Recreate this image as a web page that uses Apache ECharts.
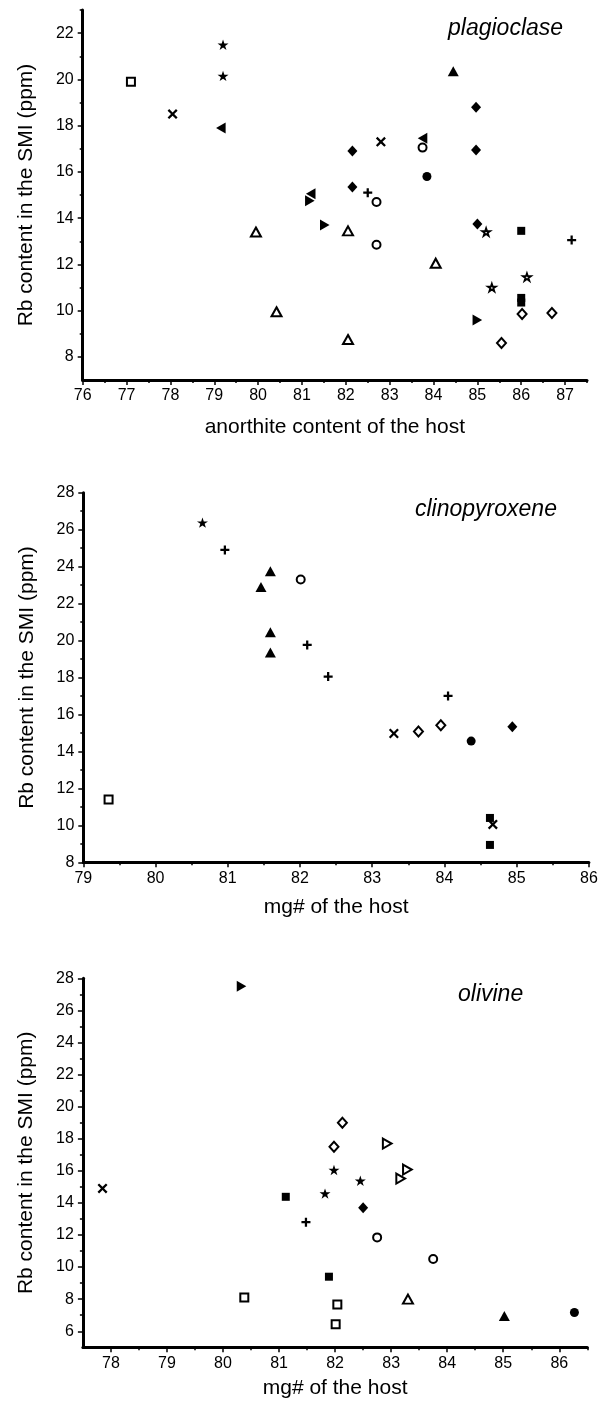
<!DOCTYPE html>
<html><head><meta charset="utf-8">
<script src="https://cdn.jsdelivr.net/npm/echarts@6/dist/echarts.min.js"></script>
<style>html,body{margin:0;padding:0;background:#fff}#c{width:608px;height:1404px}</style>
</head><body><div id="c"></div>
<script>
// ---------- Panel 1: plagioclase ----------
const plagXTicks = [76, 77, 78, 79, 80, 81, 82, 83, 84, 85, 86, 87];
const plagXMinor = [76.5, 77.5, 78.5, 79.5, 80.5, 81.5, 82.5, 83.5, 84.5, 85.5, 86.5, 87.5];
const plagYTicks = [8, 10, 12, 14, 16, 18, 20, 22];
const plagYMinor = [9, 11, 13, 15, 17, 19, 21, 23];
const plagOpenSquare = [[77.1, 19.9]];
const plagCross = [[78.05, 18.5], [82.8, 17.3]];
const plagStar = [[79.2, 21.5], [79.2, 20.15]];
const plagLeftTri = [[79.15, 17.9], [81.2, 15.05], [83.75, 17.45]];
const plagRightTri = [[81.18, 14.75], [81.52, 13.7], [85.0, 9.6]];
const plagDiamond = [[82.15, 16.9], [82.15, 15.35], [84.97, 18.8], [84.97, 16.95], [85.0, 13.75]];
const plagTriangle = [[84.45, 20.35]];
const plagOpenCircle = [[83.75, 17.05], [82.7, 14.7], [82.7, 12.85]];
const plagCircle = [[83.85, 15.8]];
const plagPlus = [[82.5, 15.1], [87.15, 13.05]];
const plagOpenTri = [[79.95, 13.4], [80.42, 9.95], [82.05, 13.45], [84.05, 12.05], [82.05, 8.75]];
const plagOpenStar = [[85.2, 13.4], [86.13, 11.45], [85.33, 11.0]];
const plagSquare = [[86.0, 13.45], [86.0, 10.55], [86.0, 10.35]];
const plagOpenDiamond = [[86.02, 9.85], [86.7, 9.9], [85.55, 8.6]];

// ---------- Panel 2: clinopyroxene ----------
const cpxXTicks = [79, 80, 81, 82, 83, 84, 85, 86];
const cpxXMinor = [79.5, 80.5, 81.5, 82.5, 83.5, 84.5, 85.5];
const cpxYTicks = [8, 10, 12, 14, 16, 18, 20, 22, 24, 26, 28];
const cpxYMinor = [9, 11, 13, 15, 17, 19, 21, 23, 25, 27];
const cpxStar = [[80.65, 26.38]];
const cpxPlus = [[80.96, 24.9], [82.1, 19.76], [82.39, 18.05], [84.05, 17.0]];
const cpxTriangle = [[81.59, 23.75], [81.46, 22.9], [81.59, 20.45], [81.59, 19.35]];
const cpxOpenCircle = [[82.01, 23.3]];
const cpxCross = [[83.3, 14.97], [84.67, 10.05]];
const cpxOpenDiamond = [[83.64, 15.08], [83.95, 15.42]];
const cpxCircle = [[84.37, 14.56]];
const cpxDiamond = [[84.94, 15.33]];
const cpxOpenSquare = [[79.35, 11.4]];
const cpxSquare = [[84.63, 10.4], [84.63, 8.94]];

// ---------- Panel 3: olivine ----------
const olXTicks = [78, 79, 80, 81, 82, 83, 84, 85, 86];
const olXMinor = [78.5, 79.5, 80.5, 81.5, 82.5, 83.5, 84.5, 85.5, 86.5];
const olYTicks = [6, 8, 10, 12, 14, 16, 18, 20, 22, 24, 26, 28];
const olYMinor = [7, 9, 11, 13, 15, 17, 19, 21, 23, 25, 27];
const olCross = [[77.85, 14.9]];
const olRightTri = [[80.33, 27.5]];
const olOpenDiamond = [[82.13, 19.0], [81.98, 17.5]];
const olOpenRightTri = [[82.93, 17.7], [83.29, 16.08], [83.17, 15.52]];
const olStar = [[81.98, 16.05], [82.45, 15.38], [81.82, 14.58]];
const olSquare = [[81.12, 14.38], [81.89, 9.4]];
const olDiamond = [[82.5, 13.7]];
const olPlus = [[81.48, 12.8]];
const olOpenCircle = [[82.75, 11.85], [83.75, 10.5]];
const olOpenSquare = [[80.38, 8.1], [82.04, 7.66], [82.01, 6.44]];
const olOpenTri = [[83.3, 8.0]];
const olTriangle = [[85.02, 6.95]];
const olCircle = [[86.27, 7.17]];

const FONT = '"Liberation Sans", Arial, sans-serif';
const STAR = 'path://M50,0 L61.8,35.3 L98.9,35.3 L68.9,57.2 L80.3,92.7 L50,70.8 L19.7,92.7 L31.1,57.2 L1.1,35.3 L38.2,35.3 Z';
const CROSS = 'path://M0,16 L16,0 L50,34 L84,0 L100,16 L66,50 L100,84 L84,100 L50,66 L16,100 L0,84 L34,50 Z';
const PLUS = 'path://M37.5,0 L62.5,0 L62.5,37.5 L100,37.5 L100,62.5 L62.5,62.5 L62.5,100 L37.5,100 L37.5,62.5 L0,62.5 L0,37.5 L37.5,37.5 Z';
const RTRI = 'path://M0,0 L87,50 L0,100 Z';
const LTRI = 'path://M87,0 L0,50 L87,100 Z';

function S(data, g, sym, size, open, bw) {
  return {
    type: 'scatter', xAxisIndex: g * 2, yAxisIndex: g * 2, data: data,
    symbol: sym, symbolSize: size, symbolKeepAspect: true, silent: true,
    emphasis: { disabled: true }, animation: false,
    itemStyle: open ? { color: '#fff', borderColor: '#000', borderWidth: bw || 2, opacity: 1 }
                    : { color: '#000', borderWidth: 0, opacity: 1 }
  };
}

function xAxes(g, min, max, major, minor, nameGap) {
  return [{
    type: 'value', gridIndex: g, min: min, max: max, position: 'bottom',
    axisLine: { show: true, onZero: false, lineStyle: { color: '#000', width: 3 } },
    axisTick: { show: true, inside: false, length: 5, customValues: major, lineStyle: { color: '#000', width: 1.5 } },
    axisLabel: { show: true, customValues: major, color: '#000', fontSize: 16, fontFamily: FONT, margin: 8 },
    splitLine: { show: false },
    name: g === 0 ? 'anorthite content of the host' : 'mg# of the host',
    nameLocation: 'middle', nameGap: nameGap,
    nameTextStyle: { color: '#000', fontSize: 21, fontFamily: FONT }
  }, {
    type: 'value', gridIndex: g, min: min, max: max, position: 'bottom', offset: 0,
    axisLine: { show: false, onZero: false },
    axisTick: { show: true, inside: false, length: 3, customValues: minor, lineStyle: { color: '#000', width: 1.5 } },
    axisLabel: { show: false }, splitLine: { show: false }
  }];
}
function yAxes(g, min, max, major, minor) {
  return [{
    type: 'value', gridIndex: g, min: min, max: max, position: 'left',
    axisLine: { show: true, onZero: false, lineStyle: { color: '#000', width: 3 } },
    axisTick: { show: true, inside: false, length: 5, customValues: major, lineStyle: { color: '#000', width: 1.5 } },
    axisLabel: { show: true, customValues: major, color: '#000', fontSize: 16, fontFamily: FONT, margin: 9 },
    splitLine: { show: false },
    name: 'Rb content in the SMI (ppm)', nameLocation: 'middle', nameGap: 46,
    nameTextStyle: { color: '#000', fontSize: 21, fontFamily: FONT }
  }, {
    type: 'value', gridIndex: g, min: min, max: max, position: 'left', offset: 0,
    axisLine: { show: false, onZero: false },
    axisTick: { show: true, inside: false, length: 3, customValues: minor, lineStyle: { color: '#000', width: 1.5 } },
    axisLabel: { show: false }, splitLine: { show: false }
  }];
}

const titleStyle = { fontStyle: 'italic', fontWeight: 'normal', fontSize: 23, fontFamily: FONT, color: '#000' };

const option = {
  animation: false,
  backgroundColor: '#fff',
  title: [
    { text: 'plagioclase', left: 448, top: 17, padding: 0, textStyle: titleStyle },
    { text: 'clinopyroxene', left: 415, top: 498, padding: 0, textStyle: titleStyle },
    { text: 'olivine', left: 458, top: 983, padding: 0, textStyle: titleStyle }
  ],
  grid: [
    { left: 82.7, top: 10, width: 504.3, height: 370, containLabel: false },
    { left: 83.3, top: 492.7, width: 505.6, height: 369.6, containLabel: false },
    { left: 82.9, top: 978.3, width: 504.4, height: 369, containLabel: false }
  ],
  xAxis: [].concat(
    xAxes(0, 76, 87.5, plagXTicks, plagXMinor, 37),
    xAxes(1, 79, 86, cpxXTicks, cpxXMinor, 34),
    xAxes(2, 77.5, 86.5, olXTicks, olXMinor, 30)
  ),
  yAxis: [].concat(
    yAxes(0, 7, 23, plagYTicks, plagYMinor),
    yAxes(1, 8, 28, cpxYTicks, cpxYMinor),
    yAxes(2, 5, 28, olYTicks, olYMinor)
  ),
  series: [
    S(plagOpenSquare, 0, 'rect', 8, true),
    S(plagCross, 0, CROSS, 10, false),
    S(plagStar, 0, STAR, 11, false),
    S(plagLeftTri, 0, LTRI, 11, false),
    S(plagRightTri, 0, RTRI, 11, false),
    S(plagDiamond, 0, 'diamond', [10, 11], false),
    S(plagTriangle, 0, 'triangle', [11, 10], false),
    S(plagOpenCircle, 0, 'circle', 8, true),
    S(plagCircle, 0, 'circle', 9, false),
    S(plagPlus, 0, PLUS, 9, false),
    S(plagOpenTri, 0, 'triangle', [10, 9], true),
    S(plagOpenStar, 0, STAR, 8, true, 1.8),
    S(plagSquare, 0, 'rect', 8, false),
    S(plagOpenDiamond, 0, 'diamond', [9, 10], true),

    S(cpxStar, 1, STAR, 11, false),
    S(cpxPlus, 1, PLUS, 9, false),
    S(cpxTriangle, 1, 'triangle', [11, 10], false),
    S(cpxOpenCircle, 1, 'circle', 8, true),
    S(cpxCross, 1, CROSS, 10, false),
    S(cpxOpenDiamond, 1, 'diamond', [9, 10], true),
    S(cpxCircle, 1, 'circle', 9, false),
    S(cpxDiamond, 1, 'diamond', [10, 11], false),
    S(cpxOpenSquare, 1, 'rect', 8, true),
    S(cpxSquare, 1, 'rect', 8, false),

    S(olCross, 2, CROSS, 10, false),
    S(olRightTri, 2, RTRI, 11, false),
    S(olOpenDiamond, 2, 'diamond', [9, 10], true),
    S(olOpenRightTri, 2, RTRI, 10, true),
    S(olStar, 2, STAR, 11, false),
    S(olSquare, 2, 'rect', 8, false),
    S(olDiamond, 2, 'diamond', [10, 11], false),
    S(olPlus, 2, PLUS, 9, false),
    S(olOpenCircle, 2, 'circle', 8, true),
    S(olOpenSquare, 2, 'rect', 8, true),
    S(olOpenTri, 2, 'triangle', [10, 9], true),
    S(olTriangle, 2, 'triangle', [11, 10], false),
    S(olCircle, 2, 'circle', 9, false)
  ]
};

const chart = echarts.init(document.getElementById('c'), null, { renderer: 'canvas' });
chart.setOption(option);
</script>
</body></html>
